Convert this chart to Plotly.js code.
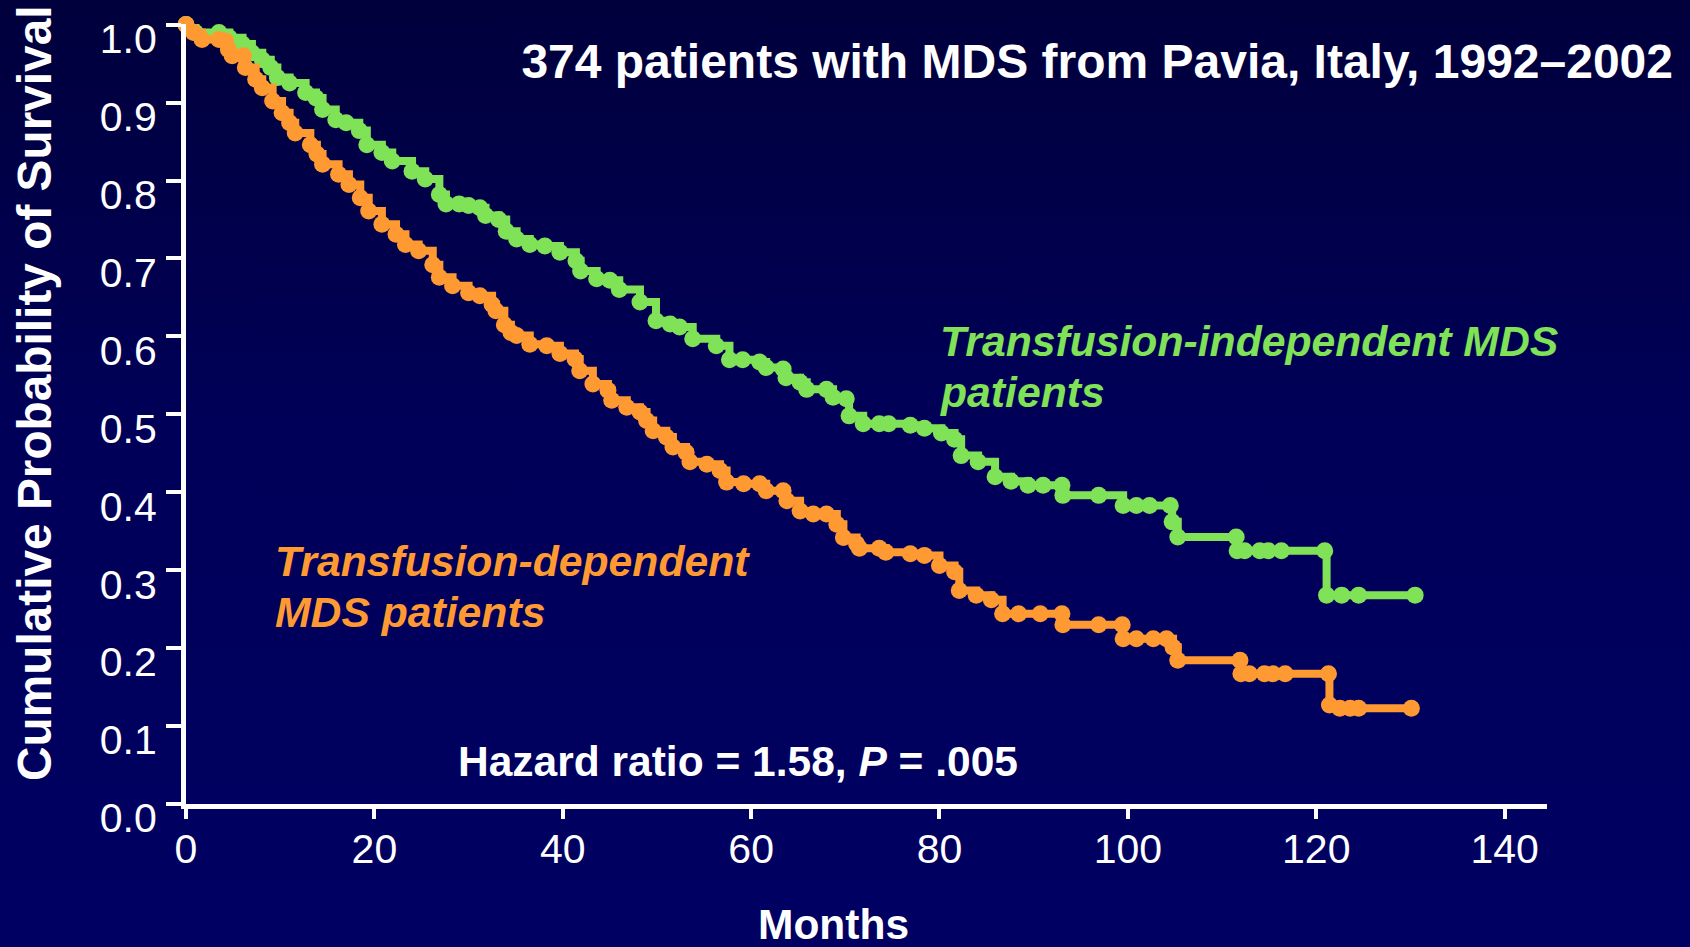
<!DOCTYPE html>
<html>
<head>
<meta charset="utf-8">
<script src="https://cdn.plot.ly/plotly-3.0.1.min.js"></script>
<style>
  html, body { margin: 0; padding: 0; width: 1690px; height: 947px; overflow: hidden;
    background: linear-gradient(to bottom, #00003c 0%, #000058 45%, #000063 100%); }
  #chart { width: 1690px; height: 947px; }
</style>
</head>
<body>
<div id="chart"></div>
<script>
// ---- data ----
const xTickVals = [0, 20, 40, 60, 80, 100, 120, 140];
const yTickVals = [0.0, 0.1, 0.2, 0.3, 0.4, 0.5, 0.6, 0.7, 0.8, 0.9, 1.0];
const yTickText = ["0.0","0.1","0.2","0.3","0.4","0.5","0.6","0.7","0.8","0.9","1.0"];

const independentMonths = [0,1.0,3.5,4.6,6.0,7.0,8.1,9.0,9.7,11.0,12.7,13.8,14.5,15.9,17.0,18.4,19.2,20.8,21.9,24.0,
  25.4,26.9,27.6,29.0,30.0,31.2,31.8,33.2,34.0,35.1,36.5,38.1,39.7,41.4,41.9,43.6,45.0,46.0,48.2,49.9,
  51.4,52.4,53.8,56.3,57.7,59.1,60.9,61.6,63.4,63.7,65.2,65.9,68.0,68.7,70.1,70.4,71.9,73.6,74.6,76.9,
  78.4,80.2,81.6,82.3,84.1,85.9,87.6,89.4,91.0,93.0,93.1,96.9,99.5,100.9,102.3,104.5,104.7,105.3,111.5,111.6,
  112.4,114.0,114.9,116.3,120.9,121.1,122.7,124.5,130.5];
const independentSurvival = [1.0,0.990,0.990,0.983,0.975,0.964,0.955,0.945,0.932,0.925,0.913,0.906,0.891,0.878,0.874,0.864,0.846,0.836,0.825,0.812,
  0.802,0.782,0.770,0.770,0.768,0.765,0.755,0.750,0.735,0.725,0.718,0.716,0.708,0.697,0.684,0.674,0.672,0.660,0.644,0.620,
  0.616,0.612,0.597,0.588,0.570,0.570,0.567,0.560,0.558,0.547,0.541,0.532,0.532,0.522,0.520,0.498,0.488,0.488,0.488,0.486,
  0.482,0.476,0.468,0.447,0.439,0.420,0.414,0.409,0.409,0.409,0.396,0.396,0.383,0.383,0.383,0.383,0.362,0.3425,0.3425,0.325,
  0.325,0.325,0.325,0.325,0.325,0.268,0.268,0.268,0.268];

const dependentMonths = [0,0.8,1.7,3.5,4.2,4.5,4.9,6.1,6.3,7.4,8.1,9.2,10.2,11.0,11.6,13.2,13.9,14.5,16.2,17.3,
  18.5,19.4,20.8,22.3,23.3,24.7,26.2,26.9,28.3,30.0,31.2,32.5,32.9,33.8,34.5,35.1,36.5,38.3,39.7,41.3,
  41.8,43.2,44.8,45.2,46.8,48.2,48.9,49.6,51.0,51.7,53.1,53.5,55.3,56.7,57.4,59.2,60.9,61.6,63.4,63.8,
  65.2,66.6,68.0,69.1,69.8,71.2,71.5,73.6,74.3,76.9,78.4,80.0,81.6,82.1,83.9,85.5,86.7,88.4,90.7,93.0,
  93.1,96.9,99.4,99.5,100.9,102.7,104.1,104.8,105.3,111.9,112.0,112.9,114.5,115.4,116.7,121.3,121.4,122.5,123.6,124.5,
  130.1];
const dependentSurvival = [1.0,0.990,0.981,0.981,0.979,0.968,0.960,0.960,0.945,0.930,0.919,0.902,0.887,0.874,0.861,0.846,0.834,0.821,0.808,0.795,
  0.778,0.761,0.744,0.731,0.718,0.710,0.692,0.676,0.665,0.656,0.652,0.641,0.633,0.615,0.605,0.601,0.590,0.588,0.578,0.571,
  0.556,0.539,0.531,0.518,0.509,0.503,0.492,0.479,0.471,0.458,0.451,0.439,0.436,0.428,0.413,0.411,0.411,0.402,0.402,0.389,
  0.376,0.372,0.372,0.359,0.342,0.334,0.328,0.328,0.323,0.321,0.319,0.306,0.298,0.274,0.268,0.262,0.244,0.244,0.244,0.244,
  0.230,0.230,0.230,0.212,0.212,0.212,0.212,0.201,0.1845,0.1845,0.167,0.167,0.167,0.167,0.167,0.167,0.127,0.123,0.123,0.123,
  0.123];

const titleText = "374 patients with MDS from Pavia, Italy, 1992\u20132002";
const independentLabel = ["Transfusion-independent MDS", "patients"];
const dependentLabel = ["Transfusion-dependent", "MDS patients"];
const hazardText = "Hazard ratio = 1.58, <i>P</i> = .005";
const xTitle = "Months";
const yTitle = "Cumulative Probability of Survival";

// ---- styles ----
const GREEN = "#7fe257";
const ORANGE = "#ff9a33";
const FONT = "Arial, 'Liberation Sans', sans-serif";

const L = 186, R = 143, T = 24, B = 143;
const W = 1690, H = 947;
const pw = W - L - R, ph = H - T - B;
const px = X => (X - L) / pw;           // pixel -> paper x
const py = Y => (H - B - Y) / ph;       // pixel -> paper y

function curve(x, y, color) {
  return {
    type: "scatter", mode: "lines+markers", x: x, y: y,
    line: { color: color, width: 8, shape: "hv" },
    marker: { color: color, size: 17 },
    cliponaxis: false, hoverinfo: "skip", showlegend: false
  };
}

const data = [
  curve(independentMonths, independentSurvival, GREEN),
  curve(dependentMonths, dependentSurvival, ORANGE)
];

function note(text, X, Y, opts) {
  return Object.assign({
    xref: "paper", yref: "paper", x: px(X), y: py(Y), text: text,
    showarrow: false, xanchor: "left", yanchor: "middle",
    font: { family: FONT, size: 42.5, color: "white", weight: "bold" }
  }, opts || {});
}

const labelFont = c => ({ family: FONT, size: 42.7, color: c, weight: "bold", style: "italic" });

const annotations = [
  note(independentLabel[0], 938, 341, { font: labelFont(GREEN) }),
  note(independentLabel[1], 938, 392, { font: labelFont(GREEN) }),
  note(dependentLabel[0], 273, 561, { font: labelFont(ORANGE) }),
  note(dependentLabel[1], 273, 612, { font: labelFont(ORANGE) }),
  note(hazardText, 456, 761),
  note(xTitle, 833, 925, { xanchor: "center" }),
  note(yTitle, 34, 393, { xanchor: "center", textangle: -90, font: { family: FONT, size: 47.8, color: "white", weight: "bold" } })
];

const layout = {
  width: W, height: H,
  paper_bgcolor: "rgba(0,0,0,0)", plot_bgcolor: "rgba(0,0,0,0)",
  margin: { l: L, r: R, t: T, b: B },
  showlegend: false,
  title: {
    text: titleText, xref: "container", yref: "container",
    x: 1673 / W, xanchor: "right", y: 1 - 61 / H, yanchor: "middle",
    font: { family: FONT, size: 48, color: "white", weight: "bold" }
  },
  xaxis: {
    range: [0, 144.5], tickvals: xTickVals, showgrid: false, zeroline: false,
    showline: true, linecolor: "white", linewidth: 5,
    ticks: "outside", ticklen: 10, tickwidth: 4, tickcolor: "white",
    tickfont: { family: FONT, size: 41, color: "white" }, ticklabelstandoff: -5
  },
  yaxis: {
    range: [0, 1.0008], tickvals: yTickVals, ticktext: yTickText, showgrid: false, zeroline: false,
    showline: true, linecolor: "white", linewidth: 5,
    ticks: "outside", ticklen: 15, tickwidth: 4, tickcolor: "white",
    tickfont: { family: FONT, size: 41, color: "white" }, ticklabelstandoff: 1, ticklabelshift: 14
  },
  annotations: annotations
};

Plotly.newPlot("chart", data, layout, { displayModeBar: false, staticPlot: true });
</script>
</body>
</html>
